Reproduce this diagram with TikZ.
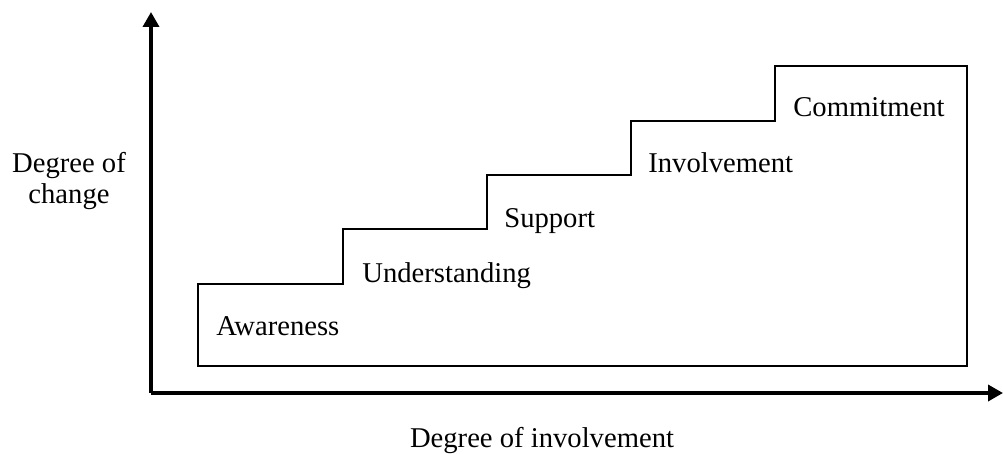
\documentclass[tikz,border=0pt]{standalone}
\usepackage{fontspec}
\setmainfont{Liberation Serif}
\usetikzlibrary{positioning,arrows.meta}
\tikzset{
  axisline/.style={line width=2pt,-{Triangle[length=0.3cm,width=0.32cm]}},
  stairline/.style={line width=0.9pt,join=miter},
  steplabel/.style={anchor=base west,inner sep=0pt,font=\fontsize{16.3}{19.5}\selectfont},
  axislabel/.style={inner sep=0pt,align=center,font=\fontsize{16.3}{17.6}\selectfont},
}
\begin{document}
\begin{tikzpicture}[x=0.02cm,y=-0.02cm]
  \useasboundingbox (0,0) rectangle (1003,453);
  % axes
  \coordinate (O) at (151,393);
  \coordinate (ytip) at (151,12);
  \coordinate (xtip) at (1003,393);
  \draw[axisline] (O) -- (ytip);
  \draw[axisline] (O) -- (xtip);
  % staircase
  \draw[stairline] (198,366) -- (198,284) -- (343,284) -- (343,229) -- (487,229)
    -- (487,175) -- (631,175) -- (631,121) -- (775,121) -- (775,66)
    -- (967,66) -- (967,366) -- cycle;
  \foreach \name/\x/\y/\txt in {aware/216/335/Awareness,under/362/282/Understanding,
      supp/504/227/Support,invol/648/172/Involvement,commit/793/116/Commitment}
    \node[steplabel] (\name) at (\x,\y) {\txt};
  % axis titles
  \node[axislabel,anchor=base] (ylab) at (69,203) {Degree of\\change};
  \node[axislabel,anchor=base] (xlab) at (542,447) {Degree of involvement};
\end{tikzpicture}
\end{document}
